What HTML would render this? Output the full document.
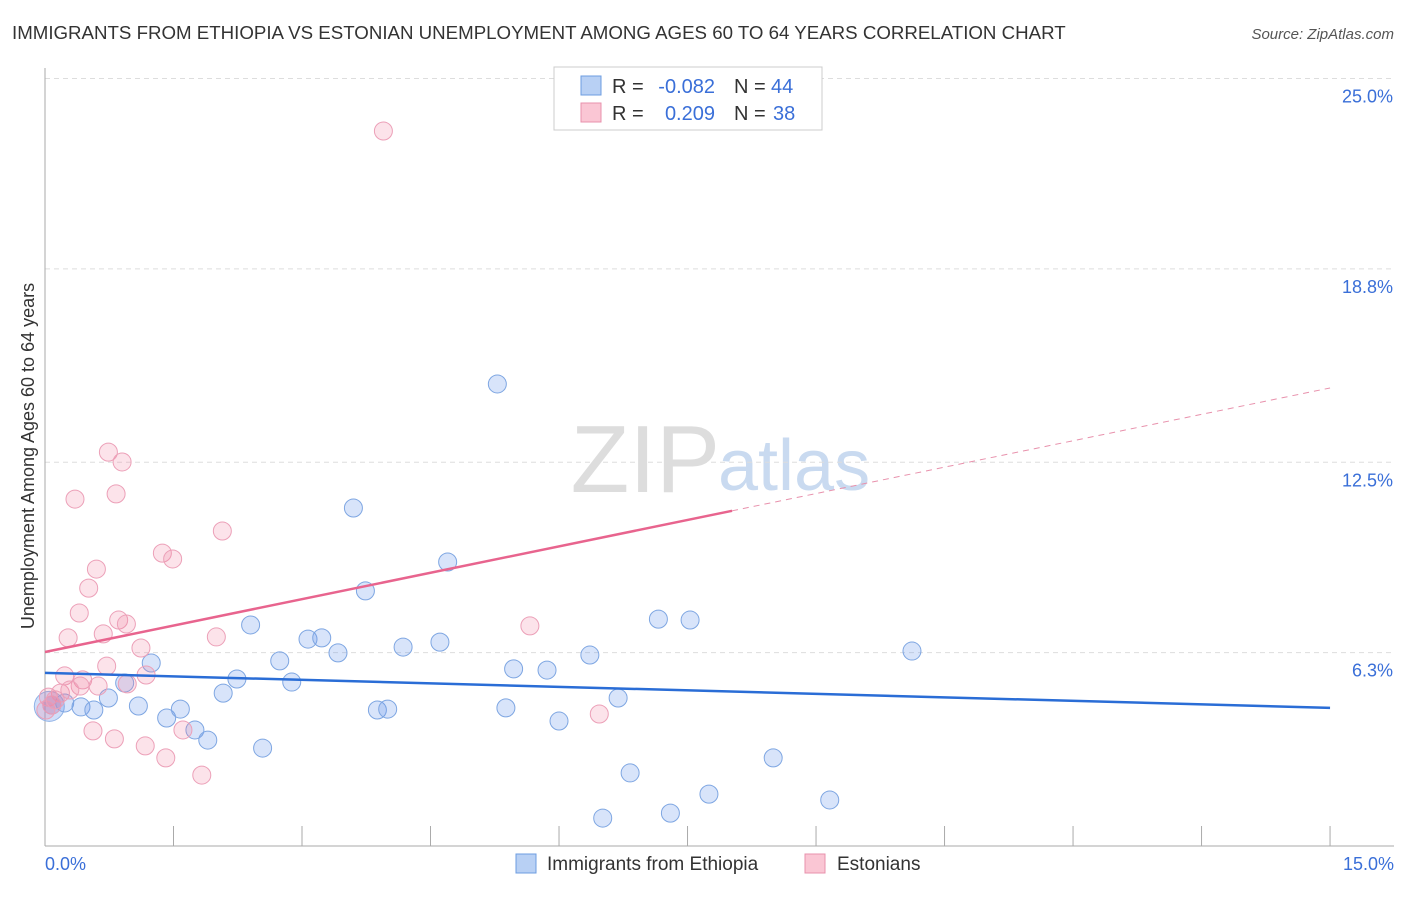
<!DOCTYPE html>
<html><head><meta charset="utf-8"><style>
body{margin:0;background:#fff;font-family:"Liberation Sans",sans-serif;}
svg text{font-family:"Liberation Sans",sans-serif;}
</style></head><body>
<svg id="chart" width="1406" height="892">
<text x="12" y="39" font-size="18.7" fill="#333">IMMIGRANTS FROM ETHIOPIA VS ESTONIAN UNEMPLOYMENT AMONG AGES 60 TO 64 YEARS CORRELATION CHART</text>
<text x="1394" y="39" font-size="15" fill="#555" font-style="italic" text-anchor="end">Source: ZipAtlas.com</text>
<text x="720" y="492" font-size="96" fill="#ddd" text-anchor="end" font-family="Liberation Serif">ZIP</text>
<text x="718" y="490" font-size="72" fill="#c9daf0">atlas</text>
<text transform="translate(34,456) rotate(-90)" font-size="18" fill="#333" text-anchor="middle">Unemployment Among Ages 60 to 64 years</text>
<g id="grid"></g><g id="marks"></g>
<g>
<rect x="554" y="67" width="268" height="63" fill="#fff" stroke="#ccc"/>
<rect x="581" y="76" width="20" height="19" fill="#b8d0f4" stroke="#6d9de0"/>
<rect x="581" y="103" width="20" height="19" fill="#fac6d4" stroke="#e891ac"/>
<text x="612" y="93" font-size="20" fill="#333">R =</text>
<text x="715" y="93" font-size="20" fill="#3a6fd8" text-anchor="end">-0.082</text>
<text x="734" y="93" font-size="20" fill="#333">N =</text>
<text x="771" y="93" font-size="20" fill="#3a6fd8">44</text>
<text x="612" y="120" font-size="20" fill="#333">R =</text>
<text x="715" y="120" font-size="20" fill="#3a6fd8" text-anchor="end">0.209</text>
<text x="734" y="120" font-size="20" fill="#333">N =</text>
<text x="773" y="120" font-size="20" fill="#3a6fd8">38</text>
</g>
<g>
<rect x="516" y="854" width="20" height="19" fill="#b8d0f4" stroke="#6d9de0"/>
<text x="547" y="870" font-size="19" fill="#333">Immigrants from Ethiopia</text>
<rect x="805" y="854" width="20" height="19" fill="#fac6d4" stroke="#e891ac"/>
<text x="837" y="870" font-size="19" fill="#333">Estonians</text>
</g>
</svg>
<script>
const yTicks=[25.0,18.8,12.5,6.3];
const yTickLabels=["25.0%","18.8%","12.5%","6.3%"];
const xTickLabels=["0.0%","15.0%"];
const blueX=[0.08,0.23,0.42,0.57,0.74,1.09,1.24,1.42,1.58,1.75,1.90,2.08,2.24,2.40,2.54,2.74,2.88,3.07,3.23,3.42,3.60,3.74,3.88,4.00,4.18,4.61,4.70,5.28,5.38,5.47,5.86,6.00,6.36,6.51,6.69,6.83,7.16,7.30,7.53,7.75,8.50,9.16,10.12,0.93];
const blueY=[4.59,4.66,4.53,4.43,4.82,4.56,5.96,4.17,4.46,3.78,3.45,4.98,5.44,7.20,3.19,6.03,5.34,6.74,6.78,6.29,11.01,8.31,4.43,4.46,6.48,6.64,9.25,15.05,4.50,5.77,5.73,4.07,6.22,0.91,4.82,2.38,7.39,1.07,7.36,1.69,2.87,1.50,6.35,5.31];
const pinkX=[3.95,0.74,0.90,0.35,0.83,2.07,1.37,1.49,0.60,0.51,0.40,0.86,0.95,0.27,0.68,1.12,2.00,5.66,0.72,0.23,0.44,0.62,0.96,1.18,0.18,0.04,0.08,0.56,0.81,1.17,1.41,1.61,1.83,6.47,0.01,0.12,0.41,0.29];
const pinkY=[23.29,12.83,12.51,11.30,11.47,10.26,9.54,9.35,9.02,8.40,7.59,7.36,7.23,6.78,6.91,6.45,6.81,7.17,5.86,5.54,5.41,5.21,5.28,5.57,4.98,4.85,4.59,3.75,3.49,3.26,2.87,3.78,2.31,4.30,4.43,4.76,5.21,5.08];
const blueTrend=[5.64,4.50];
const pinkTrend=[6.32,14.92];
const pinkSolidEnd=8.02;
const NS="http://www.w3.org/2000/svg";
const X=v=>45+v*85.67, Y=v=>846-v*30.7;
function mk(t,a,p){const e=document.createElementNS(NS,t);for(const k in a)e.setAttribute(k,a[k]);p.appendChild(e);return e;}
const g=document.getElementById('grid'),m=document.getElementById('marks');
yTicks.forEach((t,i)=>{
 const l=mk('line',{x1:45,x2:1394,y1:Y(t),y2:Y(t),stroke:'#ddd','stroke-dasharray':'5,4'},g);
 
 
 const tx=mk('text',{x:1393,y:Y(t)+24,'font-size':18,fill:'#3a6fd8','text-anchor':'end'},g);tx.textContent=yTickLabels[i];
 
 
});
mk('line',{x1:45,x2:45,y1:68,y2:846,stroke:'#aaa'},g);
mk('line',{x1:45,x2:1394,y1:846,y2:846,stroke:'#aaa'},g);
for(let i=0;i<=10;i++){const t=mk('line',{x1:X(i*1.5),x2:X(i*1.5),y1:826,y2:846,stroke:'#aaa'},g);
 
 }
[[0,'start',45],[15,'end',1394]].forEach((d,i)=>{const t=mk('text',{x:d[2],y:870,'font-size':18,fill:'#3a6fd8','text-anchor':d[1]},g);t.textContent=xTickLabels[i];
 
 });
const big1=mk('circle',{cx:X(0.05),cy:Y(4.55),r:15,fill:'rgba(100,149,237,0.3)',stroke:'#8fb2e6'},m);


blueX.forEach((x,i)=>{const c=mk('circle',{cx:X(x),cy:Y(blueY[i]),r:9,fill:'rgba(100,149,237,0.25)',stroke:'#7ea6e2','stroke-width':1},m);
 
 });
pinkX.forEach((x,i)=>{const c=mk('circle',{cx:X(x),cy:Y(pinkY[i]),r:9,fill:'rgba(240,128,160,0.22)',stroke:'#eca0b8','stroke-width':1},m);
 
 });
const bl=mk('line',{x1:X(0),x2:X(15),y1:Y(blueTrend[0]),y2:Y(blueTrend[1]),stroke:'#2a6dd6','stroke-width':2.5},m);


const pe=pinkTrend[0]+(pinkTrend[1]-pinkTrend[0])*pinkSolidEnd/15;
const pl=mk('line',{x1:X(0),x2:X(pinkSolidEnd),y1:Y(pinkTrend[0]),y2:Y(pe),stroke:'#e8648e','stroke-width':2.5},m);


const pd=mk('line',{x1:X(pinkSolidEnd),x2:X(15),y1:Y(pe),y2:Y(pinkTrend[1]),stroke:'#e891ac','stroke-width':1,'stroke-dasharray':'6,5'},m);


</script>
</body></html>
